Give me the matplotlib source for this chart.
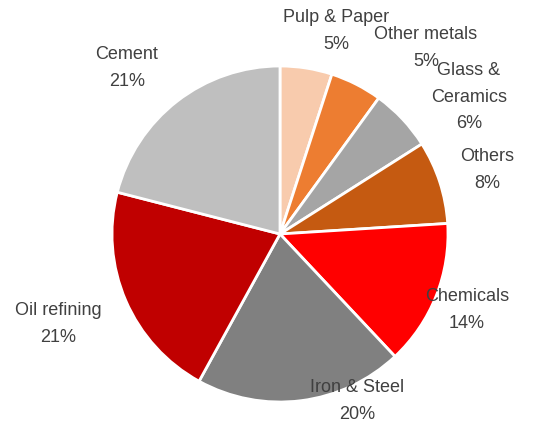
import matplotlib.pyplot as plt

sectors = ['Pulp & Paper', 'Other metals', 'Glass &\nCeramics', 'Others',
           'Chemicals', 'Iron & Steel', 'Oil refining', 'Cement']
shares = [5, 5, 6, 8, 14, 20, 21, 21]
colours = ['#F8CBAD', '#ED7D31', '#A5A5A5', '#C55A11',
           '#FF0000', '#808080', '#C00000', '#BFBFBF']

# label centres in pixels (x, y from top)
label_pos = [(336, 31), (426, 48), (469, 97), (487, 170),
             (467, 310), (357, 401), (58, 324), (127, 68)]

W, H = 558, 427
fig = plt.figure(figsize=(W / 100, H / 100), dpi=100)
ax = fig.add_axes([0, 0, 1, 1])

ax.pie(shares, colors=colours, startangle=90, counterclock=False,
       center=(280, H - 235), radius=168,
       wedgeprops=dict(edgecolor='white', linewidth=2))

# pie resets the limits, so set them afterwards
ax.set_xlim(0, W)
ax.set_ylim(0, H)
ax.set_aspect('equal')
ax.axis('off')

for name, val, (px, py) in zip(sectors, shares, label_pos):
    ax.text(px, H - py, '%s\n%d%%' % (name, val), ha='center', va='center',
            fontsize=13, color='#404040', family='Liberation Sans',
            linespacing=1.75)

fig.savefig('out.png', dpi=100)
